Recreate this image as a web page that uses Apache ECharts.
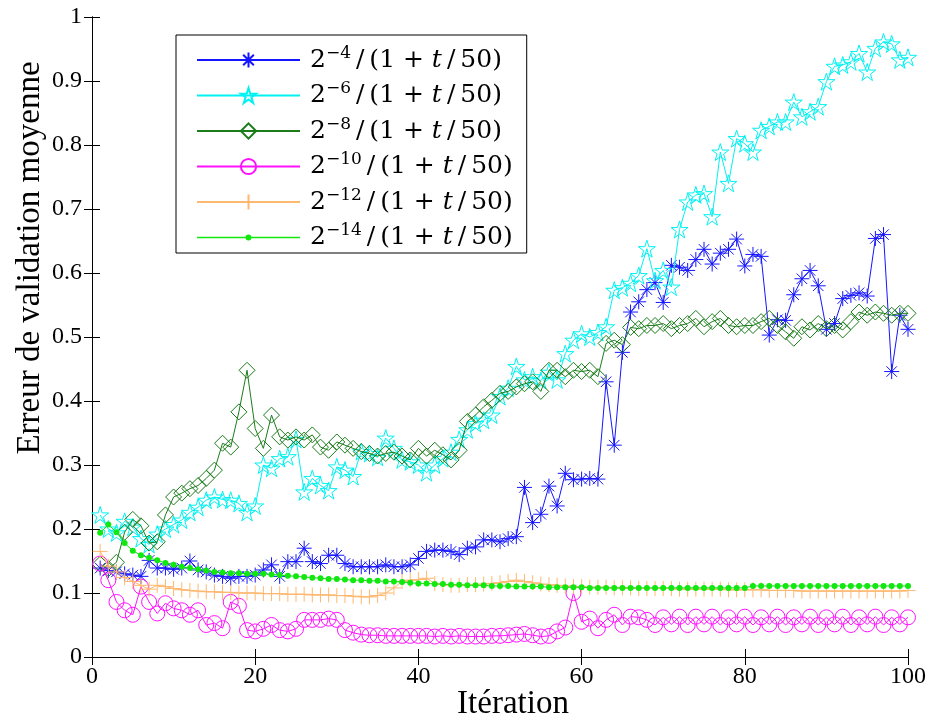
<!DOCTYPE html>
<html>
<head>
<meta charset="utf-8">
<script src="https://cdn.jsdelivr.net/npm/echarts@6/dist/echarts.min.js"></script>
<style>
html,body{margin:0;padding:0;background:#fff;}
#chart{width:933px;height:724px;}
</style>
</head>
<body>
<div id="chart"></div>
<script>
// ---------------- data ----------------
const iterations = Array.from({length: 100}, (_, i) => i + 1);
const xTicks = [0, 20, 40, 60, 80, 100];
const seriesNames = ['2^-4/(1+t/50)', '2^-6/(1+t/50)', '2^-8/(1+t/50)', '2^-10/(1+t/50)', '2^-12/(1+t/50)', '2^-14/(1+t/50)'];
const exponents = ['\u22124', '\u22126', '\u22128', '\u221210', '\u221212', '\u221214'];

const err_2m4 = [0.139,0.135,0.133,0.130,0.128,0.126,0.151,0.139,0.139,0.137,
0.139,0.150,0.136,0.133,0.128,0.126,0.123,0.126,0.126,0.128,
0.136,0.144,0.126,0.149,0.149,0.170,0.149,0.146,0.159,0.159,
0.146,0.141,0.141,0.141,0.141,0.144,0.141,0.141,0.144,0.154,
0.165,0.167,0.167,0.165,0.160,0.170,0.172,0.183,0.183,0.180,
0.185,0.188,0.265,0.210,0.223,0.267,0.236,0.287,0.277,0.278,
0.279,0.278,0.430,0.331,0.476,0.539,0.555,0.574,0.585,0.554,
0.612,0.609,0.604,0.621,0.637,0.614,0.631,0.637,0.653,0.611,
0.629,0.626,0.503,0.527,0.526,0.566,0.591,0.604,0.580,0.512,
0.521,0.560,0.565,0.569,0.564,0.654,0.660,0.446,0.534,0.512];

const err_2m6 = [0.222,0.200,0.194,0.212,0.203,0.185,0.176,0.192,0.200,0.207,
0.214,0.226,0.234,0.245,0.250,0.246,0.245,0.240,0.226,0.236,
0.300,0.295,0.310,0.313,0.340,0.258,0.279,0.268,0.260,0.297,
0.292,0.282,0.321,0.318,0.312,0.342,0.326,0.308,0.305,0.300,
0.288,0.300,0.310,0.320,0.340,0.355,0.365,0.370,0.378,0.407,
0.420,0.454,0.433,0.438,0.432,0.445,0.433,0.474,0.495,0.505,
0.500,0.507,0.516,0.573,0.577,0.584,0.596,0.638,0.588,0.604,
0.578,0.668,0.711,0.722,0.724,0.688,0.789,0.740,0.810,0.802,
0.789,0.823,0.829,0.836,0.836,0.867,0.844,0.852,0.860,0.899,
0.923,0.925,0.930,0.943,0.914,0.951,0.961,0.958,0.933,0.937];

const err_2m8 = [0.145,0.138,0.148,0.195,0.215,0.205,0.178,0.180,0.222,0.250,
0.256,0.263,0.268,0.279,0.292,0.334,0.328,0.383,0.448,0.357,
0.326,0.378,0.344,0.339,0.344,0.339,0.347,0.328,0.323,0.336,
0.331,0.326,0.321,0.318,0.314,0.318,0.320,0.314,0.308,0.326,
0.314,0.323,0.316,0.308,0.323,0.368,0.378,0.391,0.401,0.412,
0.415,0.422,0.427,0.430,0.415,0.448,0.448,0.438,0.448,0.446,
0.448,0.438,0.490,0.495,0.488,0.515,0.513,0.518,0.518,0.521,
0.513,0.518,0.521,0.529,0.516,0.524,0.529,0.518,0.516,0.518,
0.518,0.524,0.529,0.518,0.508,0.498,0.516,0.511,0.521,0.513,
0.518,0.511,0.524,0.539,0.534,0.539,0.537,0.534,0.537,0.537];

const err_2m10 = [0.146,0.120,0.086,0.073,0.066,0.110,0.086,0.068,0.084,0.076,
0.073,0.066,0.073,0.050,0.053,0.045,0.086,0.080,0.042,0.040,
0.044,0.050,0.042,0.040,0.044,0.058,0.058,0.058,0.060,0.058,
0.042,0.038,0.035,0.034,0.034,0.033,0.033,0.033,0.033,0.033,
0.033,0.032,0.033,0.032,0.033,0.032,0.032,0.032,0.033,0.033,
0.034,0.035,0.036,0.034,0.032,0.033,0.040,0.046,0.100,0.055,
0.060,0.045,0.058,0.066,0.050,0.063,0.062,0.058,0.050,0.062,
0.051,0.063,0.050,0.063,0.051,0.063,0.050,0.062,0.051,0.063,
0.050,0.062,0.051,0.063,0.050,0.062,0.051,0.063,0.050,0.062,
0.051,0.063,0.050,0.062,0.051,0.063,0.050,0.062,0.051,0.062];

const err_2m12 = [0.165,0.142,0.133,0.124,0.118,0.112,0.106,0.112,0.110,0.107,
0.105,0.104,0.103,0.102,0.102,0.101,0.101,0.100,0.100,0.100,
0.099,0.099,0.099,0.098,0.098,0.098,0.097,0.097,0.097,0.096,
0.096,0.095,0.094,0.094,0.096,0.100,0.108,0.118,0.120,0.121,
0.123,0.115,0.113,0.112,0.112,0.113,0.113,0.114,0.115,0.116,
0.118,0.120,0.118,0.116,0.114,0.113,0.112,0.111,0.110,0.110,
0.109,0.109,0.109,0.108,0.108,0.108,0.107,0.107,0.107,0.107,
0.107,0.106,0.106,0.106,0.106,0.106,0.106,0.105,0.105,0.105,
0.105,0.105,0.104,0.104,0.104,0.104,0.103,0.103,0.103,0.103,
0.103,0.103,0.103,0.103,0.103,0.103,0.103,0.103,0.103,0.104];

const err_2m14 = [0.194,0.207,0.195,0.178,0.166,0.159,0.155,0.151,0.147,0.144,
0.141,0.139,0.137,0.135,0.133,0.132,0.131,0.131,0.130,0.130,
0.130,0.129,0.128,0.127,0.126,0.125,0.124,0.123,0.122,0.122,
0.121,0.120,0.120,0.119,0.119,0.118,0.118,0.117,0.116,0.115,
0.115,0.114,0.114,0.113,0.113,0.112,0.112,0.112,0.111,0.111,
0.111,0.110,0.110,0.110,0.110,0.109,0.109,0.109,0.109,0.109,
0.108,0.108,0.108,0.108,0.108,0.108,0.108,0.108,0.108,0.108,
0.108,0.108,0.108,0.108,0.108,0.108,0.108,0.108,0.108,0.108,
0.111,0.111,0.111,0.111,0.111,0.111,0.111,0.111,0.111,0.111,
0.111,0.111,0.111,0.111,0.111,0.111,0.111,0.111,0.111,0.111];

const allSeries = [err_2m4, err_2m6, err_2m8, err_2m10, err_2m12, err_2m14];

// ---------------- styles ----------------
const FONT = 'Liberation Serif';
const LFONT = 'DejaVu Serif';
const colors = ['#1515ff', '#00f2f2', '#1a7d1a', '#ff10ff', '#ffb870', '#10e810'];
const starPath = 'path://M0,-100L22.45,-30.9L95.1,-30.9L36.3,11.8L58.8,80.9L0,38.2L-58.8,80.9L-36.3,11.8L-95.1,-30.9L-22.45,-30.9Z';
const asteriskPath = 'path://M0,-100L0,100M-100,0L100,0M-70,-70L70,70M-70,70L70,-70';
const plusPath = 'path://M0,-100L0,100M-100,0L100,0';
const symbols = [asteriskPath, starPath, 'diamond', 'circle', plusPath, 'circle'];
const symbolSizes = [15, 17, [16, 16], 15, 15, 6];
// legend icon for the small-dot series: line + small dot, framed to the legend item box
const dotLegendIcon = 'path://M0,0L0.01,0L0,0.01ZM103,19L102.99,19L103,18.99ZM0,8.8L103,8.8L103,10.2L0,10.2ZM48.5,9.5A3,3,0,1,1,54.5,9.5A3,3,0,1,1,48.5,9.5Z';

const series = allSeries.map((vals, i) => {
  const filled = i === 5;
  return {
    name: seriesNames[i],
    type: 'line',
    data: iterations.map((t, k) => [t, vals[k]]),
    symbol: symbols[i],
    symbolSize: symbolSizes[i],
    showAllSymbol: true,
    lineStyle: {color: colors[i], width: 1},
    itemStyle: {
      color: filled ? colors[i] : 'rgba(255,255,255,0)',
      borderColor: colors[i],
      borderWidth: filled ? 0 : 1
    },
    emphasis: {disabled: true},
    z: 2 + i,
    animation: false
  };
});

const chart = echarts.init(document.getElementById('chart'), null, {renderer: 'canvas'});
const axisCommon = {
  axisLine: {show: true, lineStyle: {color: '#000', width: 1}},
  axisTick: {show: true, inside: true, length: 8, lineStyle: {color: '#000', width: 1}},
  splitLine: {show: false}
};

chart.setOption({
  backgroundColor: '#fff',
  animation: false,
  grid: {left: 92, right: 25, top: 17, bottom: 67, containLabel: false},
  xAxis: [
    Object.assign({type: 'value', min: 0, max: 100, interval: 20, position: 'bottom',
      axisLabel: {color: '#000', fontFamily: FONT, fontSize: 24, margin: 8}}, axisCommon),
    Object.assign({type: 'value', min: 0, max: 100, interval: 20, position: 'top',
      axisLabel: {show: false}}, axisCommon)
  ],
  yAxis: [
    Object.assign({type: 'value', min: 0, max: 1, interval: 0.1, position: 'left',
      axisLabel: {color: '#000', fontFamily: FONT, fontSize: 24, margin: 10}}, axisCommon),
    Object.assign({type: 'value', min: 0, max: 1, interval: 0.1, position: 'right',
      axisLabel: {show: false}}, axisCommon)
  ],
  legend: {
    data: seriesNames.map((n, i) => i === 5 ? {name: n, icon: dotLegendIcon} : {name: n}),
    orient: 'vertical',
    left: 176, top: 35,
    padding: [10, 14, 3, 20],
    itemGap: 8,
    itemWidth: 103,
    itemHeight: 19,
    borderColor: '#000',
    borderWidth: 1,
    borderRadius: 0,
    backgroundColor: '#fff',
    selectedMode: false,
    formatter: function (name) {
      const i = seriesNames.indexOf(name);
      return '{n|2}{s|' + exponents[i] + '}{n|\u2009/\u2009(1 + }{i|t}{n|\u2009/\u200950)}';
    },
    textStyle: {
      color: '#000',
      fontFamily: LFONT,
      padding: [0, 0, 0, 5],
      rich: {
        n: {fontFamily: LFONT, fontSize: 25, color: '#000', lineHeight: 30},
        s: {fontFamily: LFONT, fontSize: 17, color: '#000', verticalAlign: 'top', lineHeight: 18},
        i: {fontFamily: LFONT, fontSize: 25, fontStyle: 'italic', color: '#000', lineHeight: 30}
      }
    }
  },
  graphic: [
    {type: 'text', x: 30, y: 258, rotation: Math.PI / 2,
      style: {text: 'Erreur de validation moyenne', fontFamily: FONT, fontSize: 33, fill: '#000',
        textAlign: 'center', textVerticalAlign: 'middle'}},
    {type: 'text', x: 513, y: 704,
      style: {text: 'It\u00e9ration', fontFamily: FONT, fontSize: 33, fill: '#000',
        textAlign: 'center', textVerticalAlign: 'middle'}}
  ],
  series: series
});
</script>
</body>
</html>
